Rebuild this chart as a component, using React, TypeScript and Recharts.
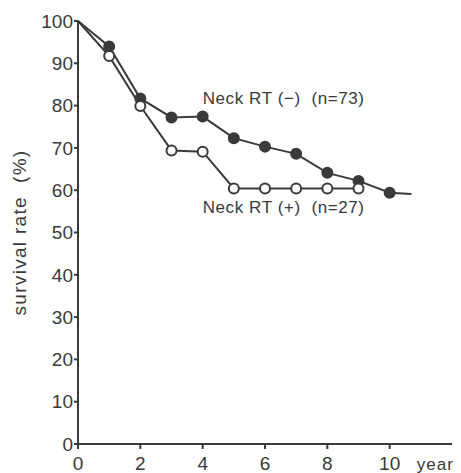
import React from "react";
import { LineChart, Line, XAxis, YAxis, ReferenceDot } from "recharts";

// years after treatment
const yearsNeg = [0, 1, 2, 3, 4, 5, 6, 7, 8, 9, 10, 10.7];
const rateNeg = [100, 94, 81.7, 77.2, 77.4, 72.3, 70.3, 68.6, 64.1, 62.2, 59.4, 59.1];
const yearsPos = [0, 1, 2, 3, 4, 5, 6, 7, 8, 9];
const ratePos = [100, 91.7, 79.9, 69.4, 69.1, 60.4, 60.4, 60.4, 60.4, 60.4];

const xTicks = [0, 2, 4, 6, 8, 10];
const yTicks = [0, 10, 20, 30, 40, 50, 60, 70, 80, 90, 100];

const negData = yearsNeg.map((year, i) => ({ year, rate: rateNeg[i], mark: i > 0 && i < 11 }));
const posData = yearsPos.map((year, i) => ({ year, rate: ratePos[i], mark: i > 0 }));

const INK = "#3a3a3a";
const FONT = "'Liberation Sans', Arial, sans-serif";
const SP = "\u00a0\u00a0";

const makeDot = (filled: boolean) => (props: any) => {
  const { cx, cy, payload, index } = props;
  if (!payload.mark) return <g key={"d" + index} />;
  return (
    <circle
      key={"d" + index}
      cx={cx}
      cy={cy}
      r={5}
      fill={filled ? INK : "#fff"}
      stroke={INK}
      strokeWidth={2}
    />
  );
};

const textShape = (label: string, size: number, spacing: number) => (props: any) => (
  <text
    x={props.cx}
    y={props.cy}
    fontFamily={FONT}
    fontSize={size}
    letterSpacing={spacing}
    fill={INK}
    textAnchor="start"
  >
    {label}
  </text>
);

const App = () => {
  return (
    <div style={{ margin: 0 }}>
      <LineChart width={453} height={465} margin={{ top: 13, right: 9, left: 0, bottom: 0 }}>
        <XAxis
          dataKey="year"
          type="number"
          domain={[0, 12]}
          ticks={xTicks}
          allowDuplicatedCategory={false}
          height={29}
          tickSize={5}
          tickMargin={8}
          stroke={INK}
          strokeWidth={2}
          tick={{ fill: INK, fontSize: 19, fontFamily: FONT }}
        />
        <YAxis
          type="number"
          domain={[0, 100]}
          ticks={yTicks}
          width={70}
          tickSize={4}
          tickMargin={1}
          stroke={INK}
          strokeWidth={2}
          tick={{ fill: INK, fontSize: 19, fontFamily: FONT }}
          label={{
            value: "survival rate" + SP + "(%)",
            angle: -90,
            position: "insideLeft",
            offset: 11,
            style: { fill: INK, fontSize: 19, fontFamily: FONT, letterSpacing: 1.3, textAnchor: "middle" },
          }}
        />
        <Line
          data={negData}
          dataKey="rate"
          stroke={INK}
          strokeWidth={2}
          dot={makeDot(true)}
          isAnimationActive={false}
        />
        <Line
          data={posData}
          dataKey="rate"
          stroke={INK}
          strokeWidth={2}
          dot={makeDot(false)}
          isAnimationActive={false}
        />
        <ReferenceDot x={4} y={80.4} r={0} ifOverflow="visible" shape={textShape("Neck RT (−)" + SP + "(n=73)", 17, 0.6)} />
        <ReferenceDot x={4} y={54.6} r={0} ifOverflow="visible" shape={textShape("Neck RT (+)" + SP + "(n=27)", 17, 0.6)} />
        <ReferenceDot x={10.87} y={-6.1} r={0} ifOverflow="visible" shape={textShape("year", 17, 1)} />
      </LineChart>
    </div>
  );
};

export default App;
